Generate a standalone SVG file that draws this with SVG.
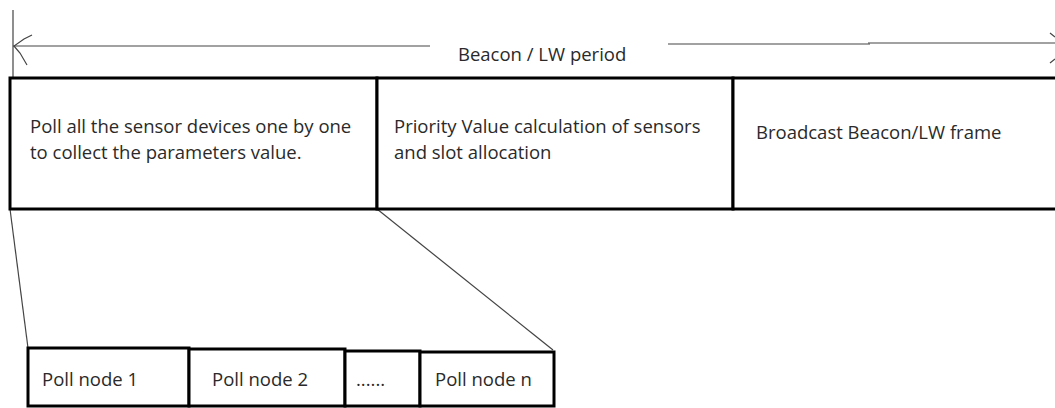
<svg xmlns="http://www.w3.org/2000/svg" width="1055" height="408" viewBox="0 0 1055 408">
<style>
.box{fill:#fff;stroke:#000;stroke-width:3}
.thin{fill:none;stroke:#444;stroke-width:1.2}
.t{font-family:"Open Sans","Noto Sans",sans-serif;font-size:18.5px;fill:#2a2a2a}
</style>
<rect width="1055" height="408" fill="#fff"/>
<g id="connectors">
<line class="thin" x1="13" y1="10" x2="13" y2="78"/>
<line class="thin" x1="13" y1="46" x2="430" y2="46"/>
<path class="thin" d="M32,35 L24,39 L14,46 L20,53 L27,65" stroke-width="1.5"/>
<line class="thin" x1="668" y1="44" x2="870" y2="44"/>
<line class="thin" x1="868" y1="43" x2="1055" y2="43"/>
<path class="thin" d="M1050,33 L1055,37 M1050,63 L1055,59" stroke-width="1.5"/>
<line class="thin" x1="10" y1="209" x2="28" y2="348"/>
<line class="thin" x1="377" y1="209" x2="553" y2="350"/>
</g>
<g id="period-label"><text class="t" x="458" y="61">Beacon / LW period</text></g>
<g id="poll-all">
<rect class="box" x="10" y="78" width="367" height="131"/>
<text class="t" x="30" y="133">Poll all the sensor devices one by one</text>
<text class="t" x="30" y="159">to collect the parameters value.</text>
</g>
<g id="priority">
<rect class="box" x="377" y="78" width="356" height="131"/>
<text class="t" x="394" y="133">Priority Value calculation of sensors</text>
<text class="t" x="394" y="159">and slot allocation</text>
</g>
<g id="broadcast">
<rect class="box" x="733" y="78" width="330" height="131"/>
<text class="t" x="756" y="139">Broadcast Beacon/LW frame</text>
</g>
<g id="poll-node-1">
<rect class="box" x="28" y="348" width="161" height="58"/>
<text class="t" x="42" y="386">Poll node 1</text>
</g>
<g id="poll-node-2">
<rect class="box" x="189" y="349" width="156" height="57"/>
<text class="t" x="212" y="386">Poll node 2</text>
</g>
<g id="dots">
<rect class="box" x="345" y="351" width="75" height="55"/>
<text class="t" x="356" y="386">......</text>
</g>
<g id="poll-node-n">
<rect class="box" x="420" y="352" width="134" height="54"/>
<text class="t" x="435" y="386">Poll node n</text>
</g>
</svg>
